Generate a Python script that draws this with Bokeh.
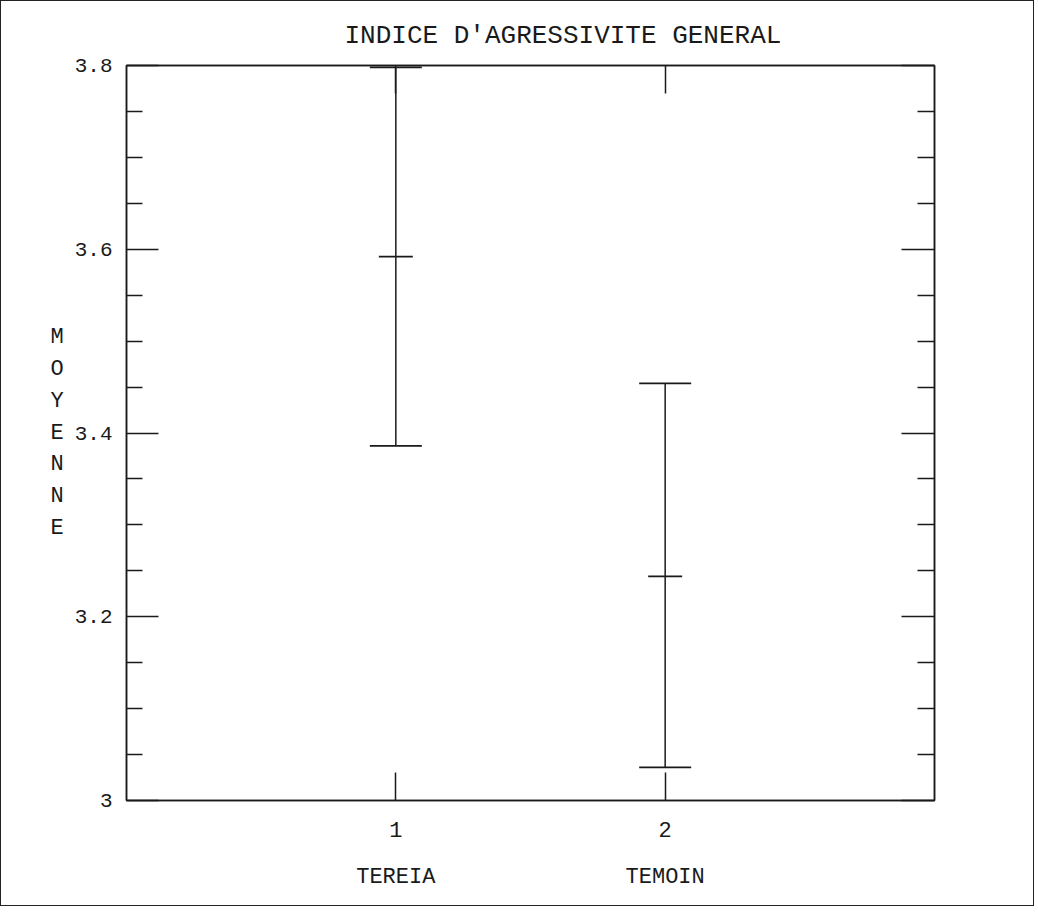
from bokeh.plotting import figure
from bokeh.models import (ColumnDataSource, Whisker, TeeHead, FixedTicker, LinearAxis,
                          Range1d)
from bokeh.embed import file_html
from bokeh.resources import INLINE

# ---- data ----
groups = [1, 2]
group_names = ["TEREIA", "TEMOIN"]
means = [3.592, 3.244]
lower = [3.386, 3.036]
upper = [3.798, 3.454]
y_ticks = [3.0, 3.2, 3.4, 3.6, 3.8]
y_tick_labels = ["3", "3.2", "3.4", "3.6", "3.8"]
y_minor = [3.05, 3.1, 3.15, 3.25, 3.3, 3.35, 3.45, 3.5, 3.55, 3.65, 3.7, 3.75]
title_text = "INDICE D'AGRESSIVITE GENERAL"
ylabel_text = "MOYENNE"

FONT = "Liberation Mono"
INK = "#1a1a1a"

p = figure(width=1034, height=906, output_backend="svg", toolbar_location=None,
           x_range=Range1d(0, 3), y_range=Range1d(3.0, 3.8),
           x_axis_location=None, y_axis_location=None,
           min_border_left=125, min_border_right=101, min_border_top=64, min_border_bottom=107)
p.grid.visible = False
p.outline_line_color = INK
p.outline_line_width = 1.5
p.background_fill_color = "white"
p.border_fill_color = "white"
p.styles = {"border": "1.5px solid #222"}

p.title.text = title_text
p.title.align = "left"
p.title.offset = 218
p.title.text_font = FONT
p.title.text_font_size = "26px"
p.title.text_font_style = "normal"
p.title.text_color = INK
p.title.standoff = 30

yt = FixedTicker(ticks=y_ticks, minor_ticks=y_minor)
xt = FixedTicker(ticks=groups, minor_ticks=[])

def style_axis(ax, tin, min_in):
    ax.axis_line_color = INK
    ax.axis_line_width = 1.5
    ax.major_tick_line_color = INK
    ax.major_tick_line_width = 1.5
    ax.minor_tick_line_color = INK
    ax.minor_tick_line_width = 1.5
    ax.major_tick_in = tin
    ax.major_tick_out = 0
    ax.minor_tick_in = min_in
    ax.minor_tick_out = 0
    ax.major_label_text_font = FONT
    ax.major_label_text_color = INK

left = LinearAxis(ticker=yt)
style_axis(left, 32, 16)
left.major_label_overrides = {v: s for v, s in zip(y_ticks, y_tick_labels)}
left.major_label_text_font_size = "21px"
left.major_label_standoff = 14
left.axis_label = "\n".join(ylabel_text)
left.axis_label_orientation = "horizontal"
left.axis_label_text_font = FONT
left.axis_label_text_font_size = "22px"
left.axis_label_text_font_style = "normal"
left.axis_label_text_color = INK
left.axis_label_text_line_height = 1.27
left.axis_label_standoff = 8
p.add_layout(left, "left")

right = LinearAxis(ticker=yt)
style_axis(right, 33, 17)
right.major_label_overrides = {v: "" for v in y_ticks}
p.add_layout(right, "right")

bottom = LinearAxis(ticker=xt)
style_axis(bottom, 28, 0)
bottom.major_label_overrides = {g: f"{g}\n{name}" for g, name in zip(groups, group_names)}
bottom.major_label_text_font_size = "22px"
bottom.major_label_text_line_height = 1.85
bottom.major_label_standoff = 18
p.add_layout(bottom, "below")

top = LinearAxis(ticker=xt)
style_axis(top, 28, 0)
top.major_label_overrides = {g: "" for g in groups}
p.add_layout(top, "above")

src = ColumnDataSource(dict(x=groups, mean=means, lower=lower, upper=upper))
w = Whisker(base="x", upper="upper", lower="lower", source=src,
            line_color=INK, line_width=1.5,
            upper_head=TeeHead(size=52, line_color=INK, line_width=1.8),
            lower_head=TeeHead(size=52, line_color=INK, line_width=1.8))
p.add_layout(w)
p.scatter("x", "mean", source=src, marker="dash", size=34, line_color=INK, line_width=1.8)

open("out.html", "w").write(file_html(p, INLINE))
